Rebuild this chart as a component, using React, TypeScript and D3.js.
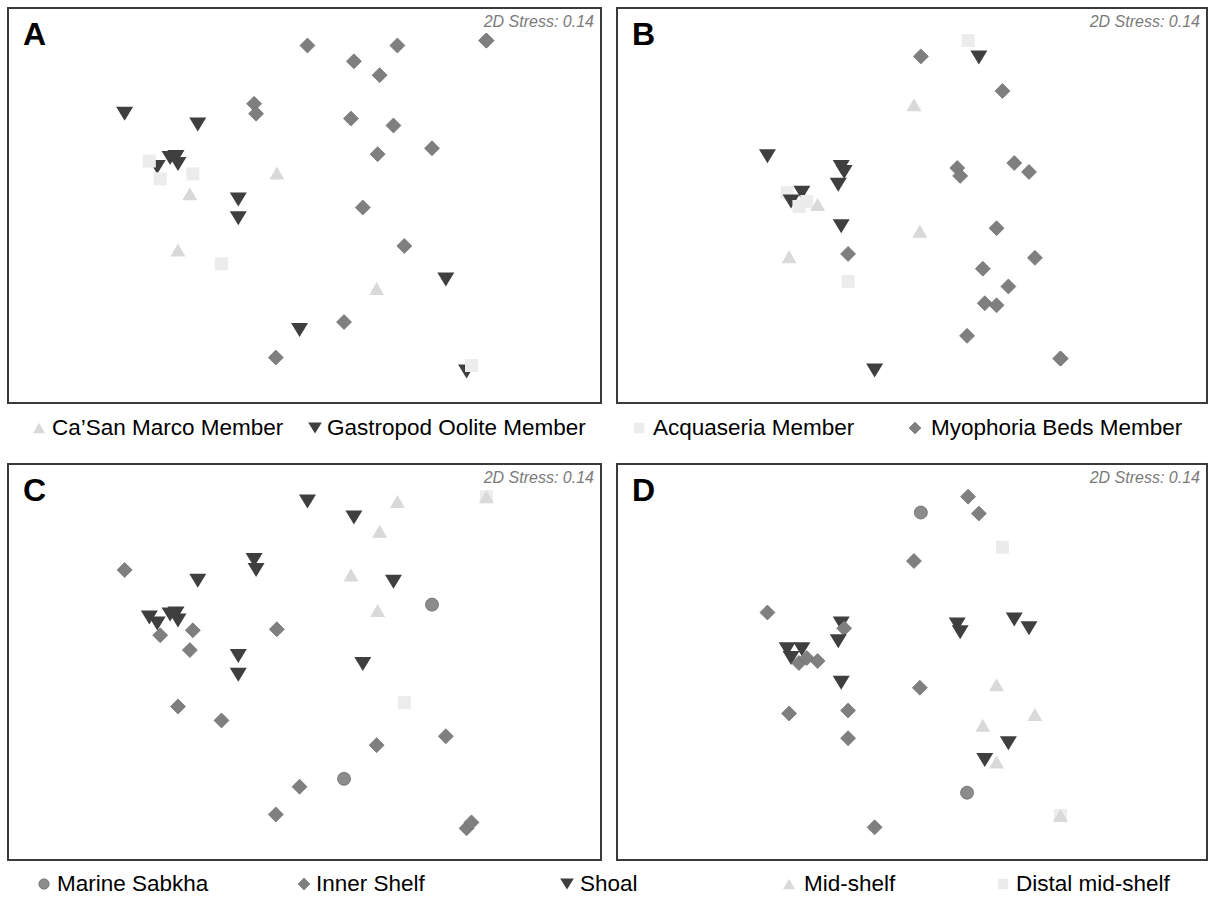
import React, { useEffect, useRef } from "react";
import * as d3 from "d3";

// legend categories
const members = ["Ca\u2019San Marco Member", "Gastropod Oolite Member", "Acquaseria Member", "Myophoria Beds Member"];
const memberCodes = ["CSM", "GOM", "ACQ", "MYO"];
const facies = ["Marine Sabkha", "Inner Shelf", "Shoal", "Mid-shelf", "Distal mid-shelf"];
const faciesCodes = ["MS", "IS", "SH", "MID", "DMS"];
const stressValue = 0.14;

// nMDS ordination used in panels A and C
const acNmds1 = [0.03, 0.5, 0.94, 1.84, 1.84, 0.76, -0.51, -0.49, 0.47, 0.9, 1.29, 0.74, 0.59, 1.01, 0.4, -0.29,
  -1.82, -1.08, -1.36, -1.3, -1.28, -1.49, -0.67, -0.67, 1.43, -0.05, 1.64,
  -0.28, -1.16, -1.28, 0.73,
  -1.57, -1.46, -1.13, -0.84, 1.69];
const acNmds2 = [1.62, 1.46, 1.62, 1.67, 1.67, 1.32, 1.03, 0.93, 0.88, 0.81, 0.58, 0.52, -0.02, -0.41, -1.18, -1.54,
  0.93, 0.82, 0.48, 0.49, 0.42, 0.39, 0.06, -0.13, -0.75, -1.26, -1.68,
  0.33, 0.12, -0.45, -0.84,
  0.45, 0.27, 0.32, -0.59, -1.62];
const acMember = ["MYO", "MYO", "MYO", "MYO", "MYO", "MYO", "MYO", "MYO", "MYO", "MYO", "MYO", "MYO", "MYO", "MYO", "MYO", "MYO",
  "GOM", "GOM", "GOM", "GOM", "GOM", "GOM", "GOM", "GOM", "GOM", "GOM", "GOM",
  "CSM", "CSM", "CSM", "CSM",
  "ACQ", "ACQ", "ACQ", "ACQ", "ACQ"];
const acFacies = ["SH", "SH", "MID", "DMS", "MID", "MID", "SH", "SH", "MID", "SH", "MS", "MID", "SH", "DMS", "MS", "IS",
  "IS", "SH", "SH", "SH", "SH", "SH", "SH", "SH", "IS", "IS", "IS",
  "IS", "IS", "IS", "IS",
  "SH", "IS", "IS", "IS", "IS"];

// nMDS ordination used in panels B and D
const bdNmds1 = [0.57, 0.68, 0.09, 0.92, 0.02, -1.47, -0.72, -0.69, -0.75, -0.72, -0.38,
  -1.27, -1.12, -1.23, -1.15, -1.07, -0.96, 0.08, -1.25, -0.65, -0.65,
  0.46, 0.49, 1.04, 1.19, 0.86, 1.25, 0.72, 0.98, 0.74, 0.86, 0.56, 1.51, 1.51];
const bdNmds2 = [1.67, 1.5, 1.51, 1.16, 1.02, 0.5, 0.39, 0.34, 0.21, -0.21, -1.67,
  0.13, 0.13, 0.04, -0.01, 0.04, 0.01, -0.26, -0.52, -0.49, -0.77,
  0.38, 0.3, 0.43, 0.34, -0.23, -0.53, -0.64, -0.82, -0.99, -1.01, -1.32, -1.55, -1.55];
const bdMember = ["ACQ", "GOM", "MYO", "MYO", "CSM", "GOM", "GOM", "GOM", "GOM", "GOM", "GOM",
  "ACQ", "GOM", "GOM", "ACQ", "ACQ", "CSM", "CSM", "CSM", "MYO", "ACQ",
  "MYO", "MYO", "MYO", "MYO", "MYO", "MYO", "MYO", "MYO", "MYO", "MYO", "MYO", "MYO", "MYO"];
const bdFacies = ["IS", "IS", "MS", "DMS", "IS", "IS", "SH", "IS", "SH", "SH", "IS",
  "SH", "SH", "SH", "IS", "IS", "IS", "IS", "IS", "IS", "IS",
  "SH", "SH", "SH", "SH", "MID", "MID", "MID", "SH", "SH", "MID", "MS", "DMS", "MID"];

const W = 1209, H = 897;
const FONT = '"Liberation Sans", Arial, Helvetica, sans-serif';

const styles: any = {
  CSM: { shape: "up", fill: "#d9d9d9" },
  GOM: { shape: "down", fill: "#3f3f3f" },
  ACQ: { shape: "square", fill: "#ececec" },
  MYO: { shape: "diamond", fill: "#7f7f7f", stroke: "#707070" },
  MS: { shape: "circle", fill: "#8c8c8c", stroke: "#5f5f5f" },
  IS: { shape: "diamond", fill: "#7f7f7f", stroke: "#707070" },
  SH: { shape: "down", fill: "#3f3f3f" },
  MID: { shape: "up", fill: "#d9d9d9" },
  DMS: { shape: "square", fill: "#ececec" },
};

const markPath = (shape: string, k: number) => {
  if (shape === "up") return `M0,${-6.5 * k}L${7.5 * k},${6.5 * k}L${-7.5 * k},${6.5 * k}Z`;
  if (shape === "down") return `M${-8.5 * k},${-7 * k}L${8.5 * k},${-7 * k}L0,${7 * k}Z`;
  if (shape === "square") return `M${-6.5 * k},${-6.5 * k}h${13 * k}v${13 * k}h${-13 * k}Z`;
  if (shape === "diamond") return `M0,${-7.5 * k}L${7.5 * k},0L0,${7.5 * k}L${-7.5 * k},0Z`;
  const r = 6.5 * k;
  return `M${r},0A${r},${r},0,1,1,${-r},0A${r},${r},0,1,1,${r},0Z`;
};

const panels = [
  { label: "A", x0: 8, x1: 601, y0: 8, y1: 403, xs: acNmds1, ys: acNmds2, groups: acMember },
  { label: "B", x0: 617, x1: 1207, y0: 8, y1: 403, xs: bdNmds1, ys: bdNmds2, groups: bdMember },
  { label: "C", x0: 8, x1: 601, y0: 464, y1: 860, xs: acNmds1, ys: acNmds2, groups: acFacies },
  { label: "D", x0: 617, x1: 1207, y0: 464, y1: 860, xs: bdNmds1, ys: bdNmds2, groups: bdFacies },
];

const App = () => {
  const ref = useRef<SVGSVGElement>(null);
  useEffect(() => {
    const svg = d3.select(ref.current);
    svg.selectAll("*").remove();

    panels.forEach((p) => {
      const g = svg.append("g");
      const x = d3.scaleLinear().domain([-3, 3]).range([p.x0, p.x1]);
      const y = d3.scaleLinear().domain([-2, 2]).range([p.y1, p.y0]);

      g.append("rect")
        .attr("x", p.x0).attr("y", p.y0)
        .attr("width", p.x1 - p.x0).attr("height", p.y1 - p.y0)
        .attr("fill", "white").attr("stroke", "#3a3a3a").attr("stroke-width", 2);

      const pts = p.xs.map((v, i) => ({ x: v, y: p.ys[i], g: p.groups[i] }));
      g.selectAll("path.pt").data(pts).enter().append("path")
        .attr("class", "pt")
        .attr("transform", (d) => `translate(${x(d.x)},${y(d.y)})`)
        .attr("d", (d) => markPath(styles[d.g].shape, 1))
        .attr("fill", (d) => styles[d.g].fill)
        .attr("stroke", (d) => styles[d.g].stroke || "none")
        .attr("stroke-width", 0.7);

      g.append("text")
        .attr("x", p.x0 + 15).attr("y", p.y0 + 37)
        .attr("font-family", FONT).attr("font-weight", "bold").attr("font-size", 32)
        .attr("fill", "#000").text(p.label);
      g.append("text")
        .attr("x", p.x1 - 7).attr("y", p.y0 + 19)
        .attr("text-anchor", "end")
        .attr("font-family", FONT).attr("font-style", "italic").attr("font-size", 16)
        .attr("fill", "#7a7a7a").text(`2D Stress: ${stressValue.toFixed(2)}`);
    });

    // legends
    const legend = (names: string[], codes: string[], mx: number[], tx: number[], my: number, base: number) => {
      const lg = svg.append("g");
      names.forEach((n, i) => {
        const s = styles[codes[i]];
        lg.append("path")
          .attr("transform", `translate(${mx[i]},${my})`)
          .attr("d", markPath(s.shape, 0.8))
          .attr("fill", s.fill)
          .attr("stroke", s.stroke || "none").attr("stroke-width", 0.6);
        lg.append("text")
          .attr("x", tx[i]).attr("y", base)
          .attr("font-family", FONT).attr("font-size", 22.5)
          .attr("fill", "#000").text(n);
      });
    };
    legend(members, memberCodes, [39, 315, 639, 915], [52, 327, 653, 931], 428, 435);
    legend(facies, faciesCodes, [44, 304, 567, 789, 1003], [57, 316, 580, 804, 1016], 884, 891);
  }, []);

  return (
    <svg ref={ref} width={W} height={H}
      style={{ position: "absolute", left: 0, top: 0, background: "#fff" }} />
  );
};

export default App;
